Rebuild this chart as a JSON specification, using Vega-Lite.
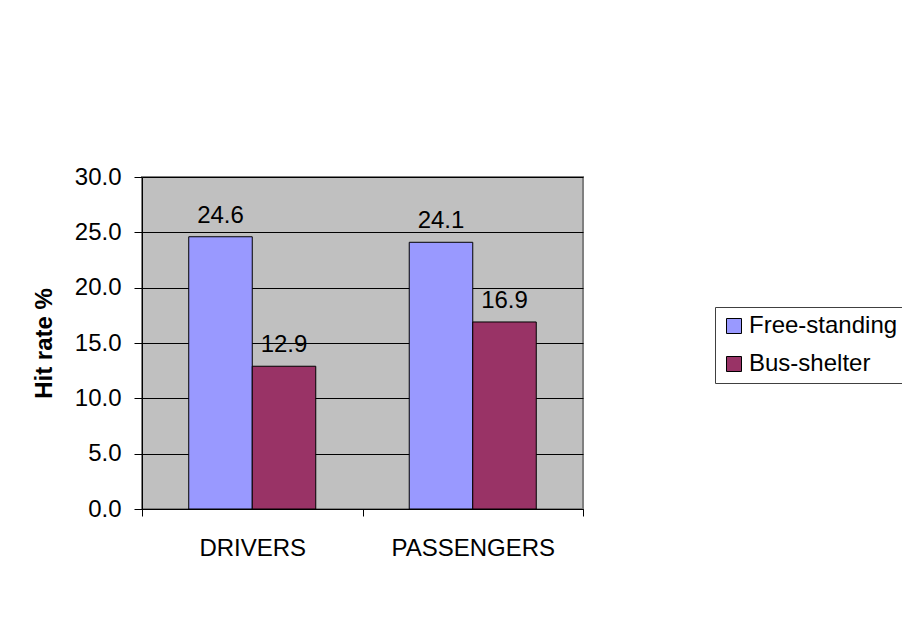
{
  "$schema": "https://vega.github.io/schema/vega-lite/v6.json",
  "autosize": {"type": "none"},
  "padding": {"left": 142, "top": 177, "right": 319, "bottom": 118},
  "width": 441,
  "height": 332,
  "background": "white",
  "config": {
    "font": "Liberation Sans",
    "view": {"fill": "#C0C0C0", "stroke": "#808080", "strokeWidth": 2}
  },
  "data": {
    "values": [
      {"group": "DRIVERS", "type": "Free-standing", "value": 24.6},
      {"group": "DRIVERS", "type": "Bus-shelter", "value": 12.9},
      {"group": "PASSENGERS", "type": "Free-standing", "value": 24.1},
      {"group": "PASSENGERS", "type": "Bus-shelter", "value": 16.9}
    ]
  },
  "encoding": {
    "x": {
      "field": "group",
      "type": "nominal",
      "sort": ["DRIVERS", "PASSENGERS"],
      "scale": {"paddingInner": 0, "paddingOuter": 0},
      "axis": {
        "title": null,
        "labelAngle": 0,
        "tickBand": "extent",
        "domainColor": "black",
        "tickColor": "black",
        "tickSize": 7,
        "labelPadding": 20,
        "labelFontSize": 24,
        "labelColor": "black",
        "grid": false
      }
    },
    "xOffset": {
      "field": "type",
      "type": "nominal",
      "sort": ["Free-standing", "Bus-shelter"],
      "scale": {"paddingInner": 0, "paddingOuter": 0.736}
    },
    "y": {
      "field": "value",
      "type": "quantitative",
      "scale": {"domain": [0, 30], "nice": false},
      "axis": {
        "values": [0, 5, 10, 15, 20, 25, 30],
        "format": ".1f",
        "title": "Hit rate %",
        "titleFontSize": 24,
        "titleFontWeight": "bold",
        "titleColor": "black",
        "titlePadding": 18,
        "labelFontSize": 24,
        "labelColor": "black",
        "labelPadding": 13,
        "tickSize": 8,
        "tickColor": "black",
        "domainColor": "black",
        "grid": true,
        "gridColor": "black",
        "gridOpacity": 1,
        "gridWidth": 1
      }
    }
  },
  "layer": [
    {
      "mark": {"type": "bar", "stroke": "black", "strokeWidth": 1},
      "encoding": {
        "color": {
          "field": "type",
          "type": "nominal",
          "sort": ["Free-standing", "Bus-shelter"],
          "scale": {"domain": ["Free-standing", "Bus-shelter"], "range": ["#9999FF", "#993366"]},
          "legend": {
            "title": null,
            "orient": "none",
            "legendX": 573,
            "legendY": 130,
            "strokeColor": "#404040",
            "fillColor": "white",
            "padding": 7,
            "symbolType": "square",
            "symbolSize": 225,
            "symbolStrokeColor": "black",
            "symbolStrokeWidth": 1,
            "symbolOpacity": 1,
            "labelFontSize": 24,
            "labelColor": "black",
            "labelOffset": 3,
            "rowPadding": 14,
            "labelLimit": 400
          }
        }
      }
    },
    {
      "mark": {"type": "text", "baseline": "alphabetic", "dy": -14, "fontSize": 24, "color": "black"},
      "encoding": {
        "text": {"field": "value", "type": "quantitative", "format": ".1f"}
      }
    }
  ]
}
